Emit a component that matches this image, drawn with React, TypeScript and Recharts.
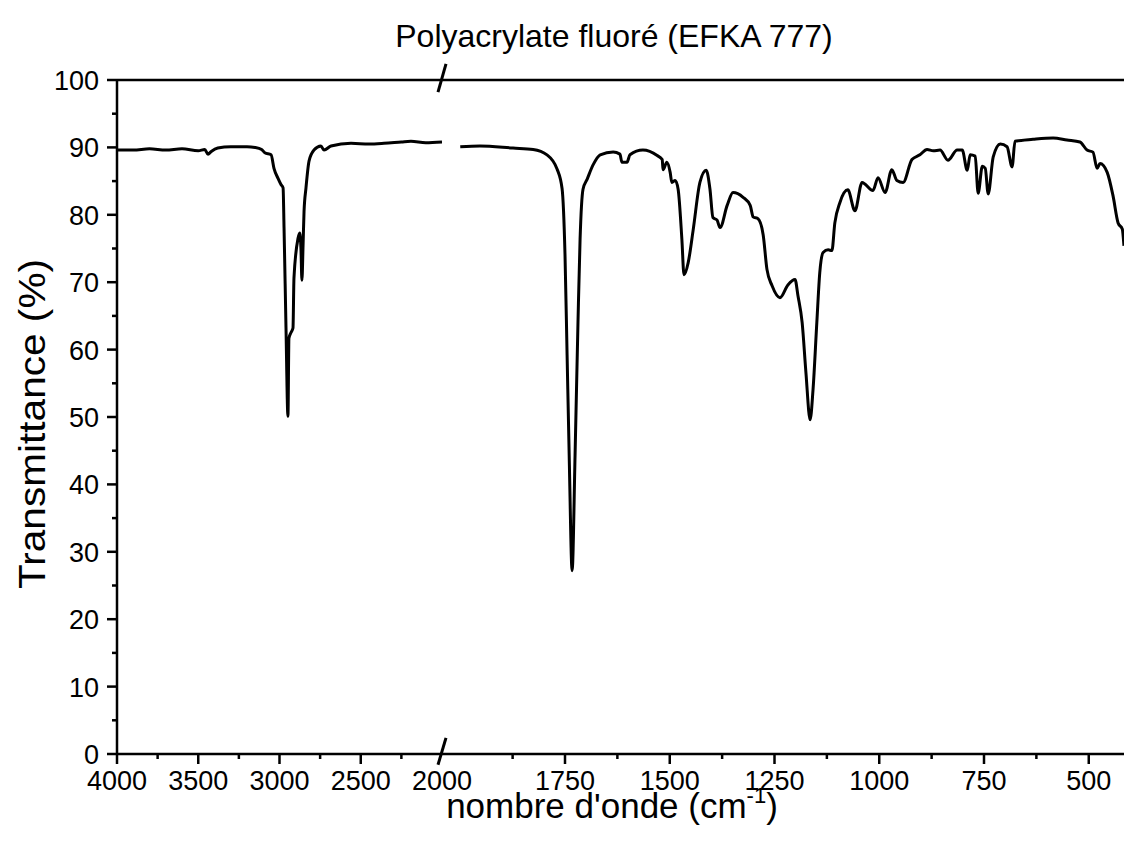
import React from "react";
import { LineChart, Line, XAxis, YAxis, ReferenceLine } from "recharts";

// spectrum, split at the axis break (2000 cm-1)
const leftWavenumbers = [
  4000, 3900, 3800, 3700, 3600, 3500, 3460, 3440, 3420, 3380, 3300, 3200, 3150, 3110, 3090,
  3052, 3034, 3009, 2991, 2978, 2972, 2960, 2948, 2942, 2930, 2917, 2911, 2886, 2876, 2868,
  2862, 2855, 2849, 2837, 2818, 2788, 2745, 2726, 2683, 2560, 2450, 2357, 2250, 2191, 2100, 2000,
];
const leftTransmittance = [
  89.6, 89.6, 89.8, 89.6, 89.8, 89.5, 89.7, 89.0, 89.4, 89.9, 90.1, 90.1, 90.0, 89.7, 89.2,
  88.9, 86.9, 85.4, 84.5, 84.0, 78.0, 63.2, 50.1, 61.7, 62.5, 63.2, 70.6, 76.5, 77.3, 75.0,
  70.3, 75.5, 80.5, 84.0, 88.0, 89.6, 90.2, 89.6, 90.2, 90.6, 90.5, 90.6, 90.8, 90.9, 90.7, 90.8,
];

const rightWavenumbers = [
  2000, 1953, 1874, 1826, 1793, 1769, 1757, 1750, 1745, 1740, 1733, 1726, 1719, 1714, 1707,
  1697, 1683, 1666, 1635, 1619, 1614, 1602, 1595, 1564, 1530, 1518, 1516, 1507, 1499, 1495,
  1487, 1480, 1471, 1466, 1456, 1444, 1428, 1413, 1404, 1397, 1387, 1380, 1363, 1349, 1325,
  1308, 1301, 1289, 1277, 1268, 1256, 1237, 1218, 1201, 1194, 1184, 1175, 1165, 1158, 1149,
  1142, 1134, 1122, 1113, 1106, 1094, 1075, 1058, 1041, 1015, 1003, 986, 970, 958, 943,
  922, 903, 886, 871, 855, 836, 814, 802, 790, 783, 771, 764, 754, 747, 740,
  728, 711, 695, 683, 676, 633, 585, 552, 521, 504, 490, 480, 473, 456, 442,
  430, 420, 416,
];
const rightTransmittance = [
  90.1, 90.2, 89.9, 89.7, 88.9, 86.8, 83.9, 74.1, 59.2, 44.3, 27.2, 44.3, 64.1, 76.4, 83.8,
  85.3, 87.4, 88.9, 89.3, 89.0, 87.8, 87.8, 88.9, 89.6, 88.8, 88.2, 86.7, 87.8, 86.3, 84.8,
  85.1, 83.8, 76.3, 71.1, 72.9, 77.8, 84.8, 86.6, 83.8, 79.6, 79.2, 78.1, 81.4, 83.3, 82.6,
  81.4, 79.7, 79.4, 77.0, 71.9, 69.5, 67.7, 69.6, 70.4, 68.0, 64.0, 56.6, 49.6, 54.1, 64.0,
  71.4, 74.4, 74.8, 74.7, 78.8, 81.8, 83.7, 80.6, 84.8, 83.6, 85.5, 83.3, 86.7, 85.1, 84.8,
  88.2, 88.9, 89.7, 89.5, 89.6, 88.1, 89.6, 89.6, 86.6, 88.9, 88.7, 83.2, 87.2, 86.9, 83.1,
  88.6, 90.5, 90.1, 87.1, 90.9, 91.2, 91.4, 91.1, 90.8, 89.6, 89.3, 86.9, 87.6, 86.3, 82.8,
  78.8, 77.9, 75.4,
];

const leftMajorTicks = [4000, 3500, 3000, 2500, 2000];
const leftMinorTicks = [3750, 3250, 2750, 2250];
const rightMajorTicks = [1750, 1500, 1250, 1000, 750, 500];
const rightMinorTicks = [1875, 1625, 1375, 1125, 875, 625];
const yMajorTicks = [0, 10, 20, 30, 40, 50, 60, 70, 80, 90, 100];
const yMinorTicks = [5, 15, 25, 35, 45, 55, 65, 75, 85, 95];

const FONT = '"Liberation Sans", Arial, Helvetica, sans-serif';
const W = 1124;
const H = 843;

// broken x axis: 4000-2000 squeezed on the left, 2000-400 stretched on the right
const leftPos = (w: number) => (4000 - w) * 0.1625;
const rightPos = (w: number) => 448 + (1750 - w) * 0.419;
const BREAK_POS = 326;
const X_MAX = 1007;

const leftData = leftWavenumbers.map((w, i) => ({ pos: leftPos(w), t: leftTransmittance[i] }));
const rightData = rightWavenumbers.map((w, i) => ({ pos: rightPos(w), t: rightTransmittance[i] }));

type TickInfo = { pos: number; label: string; major: boolean; line: boolean };
const xTickInfo: TickInfo[] = [
  ...leftMajorTicks.map((w) => ({ pos: leftPos(w), label: String(w), major: true, line: w !== 2000 })),
  ...leftMinorTicks.map((w) => ({ pos: leftPos(w), label: "", major: false, line: true })),
  ...rightMajorTicks.map((w) => ({ pos: rightPos(w), label: String(w), major: true, line: true })),
  ...rightMinorTicks.map((w) => ({ pos: rightPos(w), label: "", major: false, line: true })),
].sort((a, b) => a.pos - b.pos);

// eslint-disable-next-line @typescript-eslint/no-explicit-any
const XTick = ({ x, y, payload }: any) => {
  const info = xTickInfo.find((d) => Math.abs(d.pos - payload.value) < 0.01);
  if (!info) return null;
  return (
    <g>
      {info.line && (
        <line x1={x} x2={x} y1={y} y2={y + (info.major ? 10 : 5)} stroke="#000" strokeWidth={2.5} />
      )}
      {info.major && (
        <text x={x} y={y + 36} textAnchor="middle" fontSize={27} fontFamily={FONT} fill="#000">
          {info.label}
        </text>
      )}
    </g>
  );
};

// eslint-disable-next-line @typescript-eslint/no-explicit-any
const YTick = ({ x, y, payload }: any) => {
  const major = yMajorTicks.includes(payload.value);
  return (
    <g>
      <line x1={x} x2={x - (major ? 10 : 5)} y1={y} y2={y} stroke="#000" strokeWidth={2.5} />
      {major && (
        <text x={x - 18} y={y + 10} textAnchor="end" fontSize={27} fontFamily={FONT} fill="#000">
          {payload.value}
        </text>
      )}
    </g>
  );
};

export default function App() {
  return (
    <div style={{ position: "absolute", left: 0, top: 0, width: W, height: H, background: "#fff" }}>
      <LineChart width={W} height={H} margin={{ top: 80, right: 0, left: 57, bottom: 29 }}>
        <XAxis
          type="number"
          dataKey="pos"
          domain={[0, X_MAX]}
          ticks={xTickInfo.map((d) => d.pos)}
          interval={0}
          height={60}
          tick={<XTick />}
          tickSize={0}
          tickMargin={0}
          tickLine={false}
          axisLine={{ stroke: "#000", strokeWidth: 2.5 }}
          allowDataOverflow
        />
        <YAxis
          type="number"
          domain={[0, 100]}
          ticks={[...yMajorTicks, ...yMinorTicks].sort((a, b) => a - b)}
          interval={0}
          width={60}
          tick={<YTick />}
          tickSize={0}
          tickMargin={0}
          tickLine={false}
          axisLine={{ stroke: "#000", strokeWidth: 2.5 }}
        />
        <ReferenceLine y={100} stroke="#000" strokeWidth={2.5} />
        <ReferenceLine
          segment={[{ x: BREAK_POS - 5, y: -1.6 }, { x: BREAK_POS + 3, y: 2.4 }]}
          stroke="#000"
          strokeWidth={3}
          ifOverflow="visible"
        />
        <ReferenceLine
          segment={[{ x: BREAK_POS - 5, y: 98.2 }, { x: BREAK_POS + 3, y: 102.4 }]}
          stroke="#000"
          strokeWidth={3}
          ifOverflow="visible"
        />
        <Line
          data={leftData}
          dataKey="t"
          type="monotone"
          stroke="#000"
          strokeWidth={3}
          dot={false}
          isAnimationActive={false}
        />
        <Line
          data={rightData}
          dataKey="t"
          type="monotone"
          stroke="#000"
          strokeWidth={3}
          dot={false}
          isAnimationActive={false}
        />
      </LineChart>
      <svg
        width={W}
        height={H}
        style={{ position: "absolute", left: 0, top: 0, pointerEvents: "none" }}
      >
        <text x={614} y={47} textAnchor="middle" fontSize={32} fontFamily={FONT} fill="#000">
          Polyacrylate fluoré (EFKA 777)
        </text>
        <text x={612} y={818} textAnchor="middle" fontSize={35} fontFamily={FONT} fill="#000">
          nombre d'onde (cm
          <tspan fontSize={22} dy={-15}>-1</tspan>
          <tspan dy={15}>)</tspan>
        </text>
        <text
          x={0}
          y={0}
          transform="translate(45, 424) rotate(-90)"
          textAnchor="middle"
          fontSize={37}
          textLength={330}
          lengthAdjust="spacingAndGlyphs"
          fontFamily={FONT}
          fill="#000"
        >
          Transmittance (%)
        </text>
      </svg>
    </div>
  );
}
